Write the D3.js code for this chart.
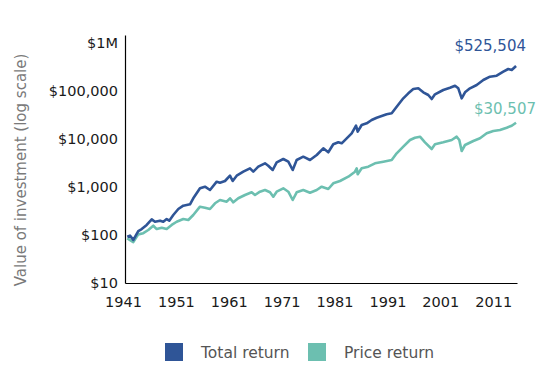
<!DOCTYPE html>
<html><head><meta charset="utf-8">
<script src="https://cdn.jsdelivr.net/npm/d3@7/dist/d3.min.js"></script>
<style>
body{margin:0;background:#fff;}
svg{display:block;font-family:"DejaVu Sans",sans-serif;}
</style></head>
<body><svg id="chart" width="538" height="378"></svg>
<script>
// ---- data ----
const totalYears = [1941.81,1942.32,1942.95,1943.89,1944.54,1945.48,1946.43,1947.05,1948.00,1948.62,1949.26,1949.75,1950.51,1951.46,1952.40,1953.04,1953.67,1954.29,1955.56,1956.50,1957.45,1958.72,1959.34,1960.29,1961.23,1961.74,1962.50,1963.75,1965.01,1965.64,1966.58,1967.85,1968.47,1969.31,1970.06,1971.31,1972.26,1973.09,1973.84,1975.09,1976.36,1977.63,1978.87,1979.82,1980.76,1981.71,1982.35,1983.30,1984.24,1985.06,1985.38,1986.13,1987.08,1988.02,1988.97,1990.86,1991.81,1992.75,1994.00,1994.95,1995.89,1996.84,1997.78,1998.73,1999.37,1999.99,2001.56,2002.83,2003.78,2004.40,2005.04,2005.67,2006.61,2007.88,2009.13,2010.39,2011.66,2012.91,2013.85,2014.50,2015.32];
const totalValues = [92,97,79,121,133,162,212,189,199,189,215,199,261,348,408,422,436,582,940,1015,866,1290,1229,1334,1720,1334,1720,2084,2453,2084,2648,3118,2778,2261,3270,3831,3366,2261,3652,4279,3652,4642,6402,5284,7757,8537,8136,10340,13150,18930,14200,19570,21240,24880,27780,32710,34310,47100,70450,89560,110100,113800,93970,82540,68130,85340,104900,117200,128940,113800,70450,93970,113800,133400,169500,198600,208400,252400,287300,273800,331800];

const priceYears = [1941.81,1942.95,1943.89,1944.84,1945.78,1946.73,1947.37,1948.32,1949.26,1950.21,1951.15,1952.40,1953.35,1954.29,1955.56,1956.50,1957.45,1958.40,1959.34,1960.61,1961.23,1961.86,1962.80,1964.07,1965.33,1965.96,1966.90,1967.85,1968.80,1969.42,1970.06,1971.31,1972.26,1973.09,1973.84,1975.09,1976.36,1977.63,1978.57,1979.82,1980.76,1982.03,1983.60,1984.87,1985.19,1985.38,1986.13,1987.38,1988.65,1990.22,1991.81,1992.75,1994.00,1995.27,1996.21,1997.16,1998.10,1999.37,1999.99,2001.56,2003.15,2004.10,2004.59,2005.04,2005.67,2007.24,2008.50,2009.77,2011.02,2012.28,2013.55,2014.50,2015.32];
const priceValues = [85,71,103,109,127,156,133,142,133,162,189,215,205,261,389,371,348,458,536,494,582,480,582,681,776,681,798,866,776,628,798,940,798,536,776,866,761,866,1015,909,1194,1334,1639,2084,2453,1839,2453,2648,3118,3366,3652,5036,6913,9532,10640,11170,8537,6190,7757,8537,9532,11170,9532,5623,7499,9085,10340,13150,14680,15400,17200,18930,21860];

const seriesNames = ["Total return","Price return"];
const seriesColors = ["#2f5597","#6cbfb0"];
const endLabels = ["$525,504","$30,507"];

const yTicks = [10,100,1000,10000,100000,1000000];
const yTickLabels = ["$10","$100","$1,000","$10,000","$100,000","$1M"];
const xTicks = [1941,1951,1961,1971,1981,1991,2001,2011];

// ---- drawing ----
const svg = d3.select("#chart");
const x = d3.scaleLinear().domain([1941.38, 2015.5]).range([125, 517]);
const y = d3.scaleLog().domain([10, Math.pow(10, 6 + 8/48)]).range([283, 35]);

const yAxis = d3.axisLeft(y).tickValues(yTicks)
  .tickFormat((d,i) => yTickLabels[i]).tickSize(0).tickPadding(7);
const gy = svg.append("g").attr("transform","translate(125,0)").call(yAxis);
gy.select(".domain").attr("stroke","#000").attr("stroke-width",1.2);
gy.selectAll("text").attr("font-size",14.5).attr("fill","#1a1a1a")
  .attr("font-family",'"DejaVu Sans",sans-serif');

const xAxis = d3.axisBottom(x).tickValues(xTicks).tickFormat(d3.format("d"))
  .tickSize(0).tickSizeOuter(0).tickPadding(14);
const gx = svg.append("g").attr("transform","translate(0,283)").call(xAxis);
gx.select(".domain").attr("stroke","#000").attr("stroke-width",1.2);
gx.selectAll("text").attr("font-size",14.5).attr("fill","#1a1a1a")
  .attr("font-family",'"DejaVu Sans",sans-serif');

const line = d3.line().x(d => x(d[0])).y(d => y(d[1]));
const priceData = priceYears.map((yr,i) => [yr, priceValues[i]]);
const totalData = totalYears.map((yr,i) => [yr, totalValues[i]]);

svg.append("path").datum(priceData).attr("d", line)
  .attr("fill","none").attr("stroke",seriesColors[1]).attr("stroke-width",2.6)
  .attr("stroke-linejoin","round");
svg.append("path").datum(totalData).attr("d", line)
  .attr("fill","none").attr("stroke",seriesColors[0]).attr("stroke-width",2.6)
  .attr("stroke-linejoin","round");

svg.append("text").attr("x",526).attr("y",51).attr("text-anchor","end")
  .attr("font-size",15).attr("fill",seriesColors[0]).text(endLabels[0]);
svg.append("text").attr("x",536).attr("y",114).attr("text-anchor","end")
  .attr("font-size",15).attr("fill",seriesColors[1]).text(endLabels[1]);

// y title
svg.append("text").attr("transform","translate(26,170) rotate(-90)")
  .attr("text-anchor","middle").attr("font-size",15).attr("fill","#7a7a7a")
  .text("Value of investment (log scale)");

// legend
const legX = [165, 308];
seriesNames.forEach((n,i) => {
  svg.append("rect").attr("x",legX[i]).attr("y",343).attr("width",18).attr("height",18)
    .attr("fill",seriesColors[i]);
  svg.append("text").attr("x",legX[i]+36).attr("y",357.5).attr("font-size",15.5)
    .attr("fill","#555").text(n);
});
</script></body></html>
